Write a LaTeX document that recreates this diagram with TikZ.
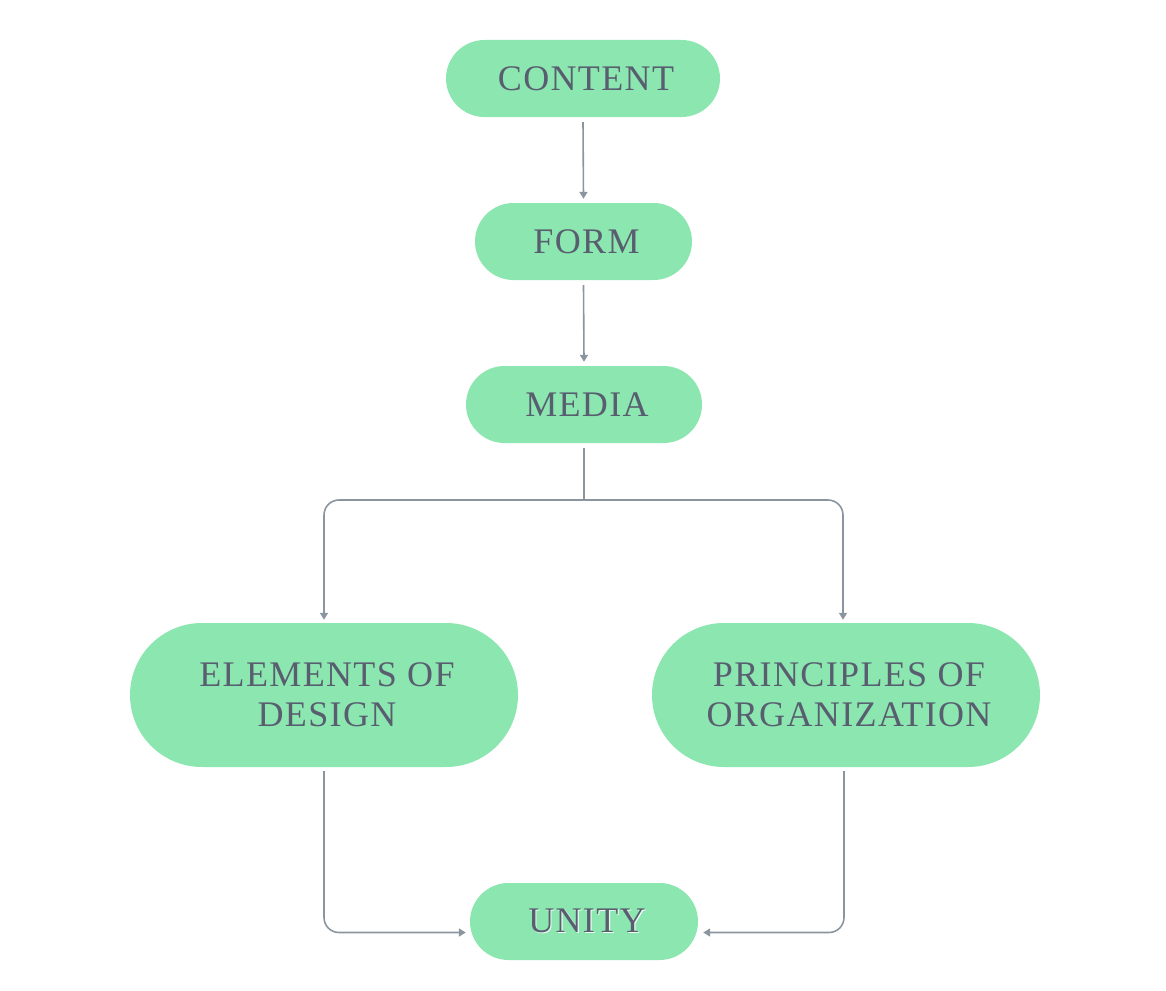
\documentclass[tikz,border=0pt]{standalone}
\usepackage{fontspec}
\setmainfont{Liberation Serif}[LetterSpace=3.8]
\usetikzlibrary{arrows.meta}
\definecolor{boxfill}{HTML}{8CE6B0}
\definecolor{txt}{HTML}{585D6F}
\definecolor{wire}{HTML}{8A959F}
\newcommand{\nudge}{\hspace*{6pt}}
\begin{document}
\begin{tikzpicture}[x=1pt,y=-1pt,
  pill/.style={fill=boxfill, draw=none, text=txt, font=\fontsize{36}{40}\selectfont, align=center, inner sep=0pt},
  smallpill/.style={pill, minimum height=77pt, rounded corners=38.5pt},
  bigpill/.style={pill, minimum width=388pt, minimum height=144pt, rounded corners=72pt},
  wireline/.style={draw=wire, line width=1.6pt},
  arr/.style={wireline, -{Triangle[width=8pt,length=7pt]}}]
\useasboundingbox (0,0) rectangle (1166,990);
\node[smallpill, minimum width=274pt] (content) at (583,78.5) {\nudge CONTENT};
\node[smallpill, minimum width=217pt] (form) at (583.5,241.5) {\nudge FORM};
\node[smallpill, minimum width=236pt] (media) at (584,404.5) {\nudge MEDIA};
\node[bigpill] (elem) at (324,695) {\nudge ELEMENTS OF\\\nudge DESIGN};
\node[bigpill] (princ) at (846,695) {\nudge PRINCIPLES OF\\\nudge ORGANIZATION};
\node[smallpill, minimum width=228pt] (unity) at (584,921.5)
  {\nudge\makebox[0pt][l]{\hspace{1.2pt}\raisebox{-1.2pt}{\textcolor{white!85!boxfill}{UNITY}}}UNITY};
\coordinate (split) at (584,500);
\draw[arr] ([yshift=-5pt]content.south) -- ([yshift=4pt]form.north);
\draw[arr] ([yshift=-5pt]form.south) -- ([yshift=4pt]media.north);
\draw[wireline] ([yshift=-5pt]media.south) -- (split);
\draw[arr, rounded corners=15pt] (split) -| ([yshift=3pt]elem.north);
\draw[arr, rounded corners=15pt] (split) -| ([xshift=-3pt,yshift=3pt]princ.north);
\draw[arr, rounded corners=15pt] ([yshift=-4pt]elem.south) |- ([xshift=-4pt,yshift=-11pt]unity.west);
\draw[arr, rounded corners=15pt] ([xshift=-2pt,yshift=-4pt]princ.south) |- ([xshift=5pt,yshift=-11pt]unity.east);
\end{tikzpicture}
\end{document}
